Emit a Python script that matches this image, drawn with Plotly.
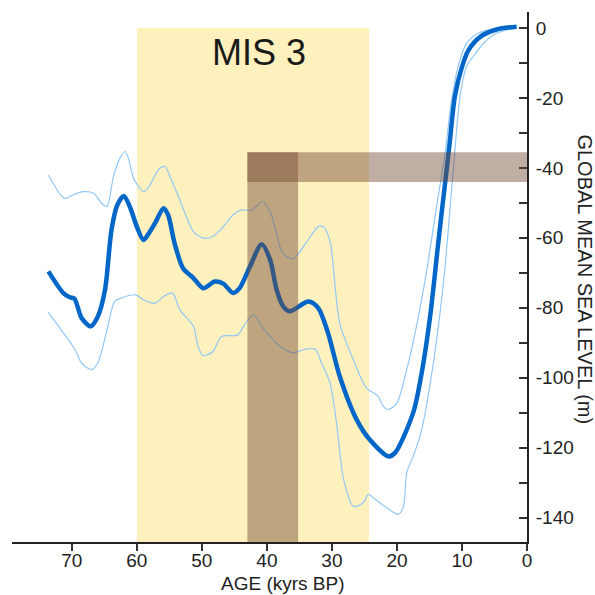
import plotly.graph_objects as go

# ---- data (age in kyr BP, sea level in m) ----
main_age = [73.6, 71.3, 70.3, 69.6, 68.5, 67.1, 66.0, 64.9, 63.9, 63.0, 62.0, 61.1, 60.0, 59.0, 58.3,
            57.2, 55.9, 55.2, 54.2, 52.9, 51.3, 49.8, 48.0, 46.7, 45.2, 44.2, 42.6, 40.8, 39.5, 38.5,
            37.5, 36.5, 33.6, 32.1, 30.6, 28.8, 26.2, 24.2, 21.3, 20.3, 17.5, 16.2, 14.9, 13.6, 12.6,
            11.9, 11.1, 10.0, 9.0, 7.2, 4.7, 1.6]
main_sl = [-69.6, -75.8, -77.0, -77.4, -82.9, -85.3, -82.5, -74.9, -57.7, -50.6, -48.0, -51.0, -56.8, -60.6, -59.1,
           -55.8, -51.5, -53.4, -61.5, -68.7, -71.5, -74.4, -72.5, -73.1, -75.8, -74.4, -68.2, -61.8, -66.3, -74.9,
           -79.6, -81.0, -78.2, -80.1, -87.2, -99.6, -112.0, -117.7, -122.5, -121.5, -110.0, -98.7, -82.5, -60.6, -44.4,
           -33.0, -19.6, -11.1, -6.3, -2.5, -0.4, 0.4]

upper_age = [73.6, 71.1, 69.8, 68.3, 66.7, 65.4, 64.6, 63.6, 62.6, 61.8, 61.3, 60.6, 59.9, 59.0, 58.3,
             56.5, 55.7, 54.9, 53.6, 52.4, 51.3, 49.8, 48.3, 46.7, 45.2, 43.9, 42.4, 40.7, 39.5, 38.8,
             37.5, 36.0, 34.0, 32.1, 31.3, 30.3, 28.8, 26.7, 24.7, 22.9, 22.1, 21.3, 20.0, 18.5, 17.0,
             15.4, 13.9, 12.6, 11.6, 10.6, 9.3, 7.5, 4.7, 1.6]
upper_sl = [-42.0, -48.7, -47.7, -46.8, -47.2, -50.1, -51.0, -42.5, -37.2, -35.3, -37.2, -42.5, -44.9, -46.8, -45.8,
            -40.1, -39.6, -42.5, -48.2, -53.9, -58.2, -60.1, -59.6, -56.8, -53.4, -52.0, -52.2, -49.6, -52.5, -56.8,
            -64.6, -66.0, -61.5, -56.8, -56.8, -61.0, -84.4, -94.9, -102.9, -105.3, -108.2, -109.1, -107.2, -97.7, -85.3,
            -69.1, -51.0, -35.8, -20.6, -11.0, -4.4, -1.5, -0.1, 0.6]

lower_age = [73.6, 71.3, 69.5, 68.5, 67.0, 66.0, 64.7, 63.4, 62.4, 60.2, 59.0, 57.2, 55.9, 54.5, 53.4,
             51.3, 50.6, 49.8, 48.3, 47.0, 45.2, 44.4, 43.6, 42.1, 40.6, 38.0, 35.9, 34.4, 32.6, 31.6,
             30.3, 29.3, 28.2, 26.7, 25.2, 24.4, 23.6, 21.6, 19.8, 19.0, 18.5, 17.5, 16.2, 14.4, 12.8,
             11.4, 10.3, 9.3, 8.3, 6.7, 4.7, 1.6]
lower_sl = [-81.3, -87.2, -92.0, -95.8, -97.7, -95.8, -87.2, -78.2, -77.2, -76.3, -77.7, -78.7, -76.8, -75.8, -80.6,
            -85.3, -91.0, -93.7, -92.5, -88.2, -88.0, -87.7, -85.3, -82.0, -85.8, -91.0, -92.9, -92.0, -91.8, -95.8,
            -101.5, -112.9, -129.1, -136.8, -135.8, -133.4, -134.4, -137.2, -139.1, -136.8, -127.2, -122.5, -114.9, -95.8, -72.0,
            -42.0, -19.6, -11.0, -8.2, -4.4, -1.5, 0.1]

x_ticks = [70, 60, 50, 40, 30, 20, 10, 0]
x_ticktext = ["70", "60", "50", "40", "30", "20", "10", "0"]
y_ticks = [0, -20, -40, -60, -80, -100, -120, -140]
y_ticktext = ["0", "-20", "-40", "-60", "-80", "-100", "-120", "-140"]
y_minor = [-10, -30, -50, -70, -90, -110, -130]

mis3 = (60.0, 24.3)          # MIS 3 interval (kyr)
v_band = (43.0, 35.2)        # vertical band (kyr)
h_band = (-35.5, -44.0)      # horizontal band (m)

FONT = "Liberation Sans, Arial, Helvetica, sans-serif"
BROWN = "rgba(116,74,52,0.45)"

fig = go.Figure()
fig.add_trace(go.Scatter(x=upper_age, y=upper_sl, mode="lines",
                         line=dict(color="#92C8F6", width=1.2, shape="spline", smoothing=0.8),
                         hoverinfo="skip", showlegend=False))
fig.add_trace(go.Scatter(x=lower_age, y=lower_sl, mode="lines",
                         line=dict(color="#92C8F6", width=1.2, shape="spline", smoothing=0.8),
                         hoverinfo="skip", showlegend=False))
fig.add_trace(go.Scatter(x=main_age, y=main_sl, mode="lines",
                         line=dict(color="#0066C8", width=4.5, shape="spline", smoothing=0.8),
                         showlegend=False))

# MIS 3 box
fig.add_shape(type="rect", xref="x", yref="y", x0=mis3[0], x1=mis3[1], y0=-147, y1=0,
              fillcolor="#FEF1BE", line=dict(width=0), layer="below")
# brown bands (drawn above traces, semi-transparent)
fig.add_shape(type="rect", xref="x", yref="y", x0=v_band[0], x1=v_band[1], y0=-147, y1=h_band[0],
              fillcolor=BROWN, line=dict(width=0), layer="above")
fig.add_shape(type="rect", xref="x", yref="y", x0=v_band[0], x1=0, y0=h_band[1], y1=h_band[0],
              fillcolor=BROWN, line=dict(width=0), layer="above")

fig.add_annotation(x=41.2, y=-7.0, xref="x", yref="y", text="MIS 3", showarrow=False,
                   font=dict(family=FONT, size=36, color="#1a1a1a"), xanchor="center", yanchor="middle")
fig.add_annotation(x=0.526, y=-0.0775, xref="paper", yref="paper", text="AGE (kyrs BP)", showarrow=False,
                   font=dict(family=FONT, size=19, color="#222"), xanchor="center", yanchor="middle",
                   borderpad=0)
fig.add_annotation(x=1.112, y=0.496, xref="paper", yref="paper", text="GLOBAL MEAN SEA LEVEL (m)",
                   showarrow=False, textangle=90,
                   font=dict(family=FONT, size=20, color="#222"), xanchor="center", yanchor="middle")

fig.update_layout(
    width=595, height=595,
    margin=dict(l=12, r=68, t=12, b=53),
    paper_bgcolor="white", plot_bgcolor="white",
    font=dict(family=FONT, size=19, color="#222"),
    xaxis=dict(range=[79.2, 0], tickvals=x_ticks, ticktext=x_ticktext, ticks="outside", ticklen=7,
               tickwidth=1.5, tickcolor="#333", showline=True, linewidth=2, linecolor="#222",
               showgrid=False, zeroline=False, ticklabelstandoff=-7,
               tickfont=dict(family=FONT, size=19, color="#222")),
    yaxis=dict(range=[-147, 4.6], side="right", tickvals=y_ticks, ticktext=y_ticktext, ticks="inside",
               ticklen=8, tickwidth=1.5, tickcolor="#333", showline=True, linewidth=2, linecolor="#222",
               showgrid=False, zeroline=False, ticklabelstandoff=3,
               tickfont=dict(family=FONT, size=19, color="#222"),
               minor=dict(tickvals=y_minor, ticks="inside", ticklen=8, tickwidth=1.5, tickcolor="#333")),
)

fig.write_html("out.html")
